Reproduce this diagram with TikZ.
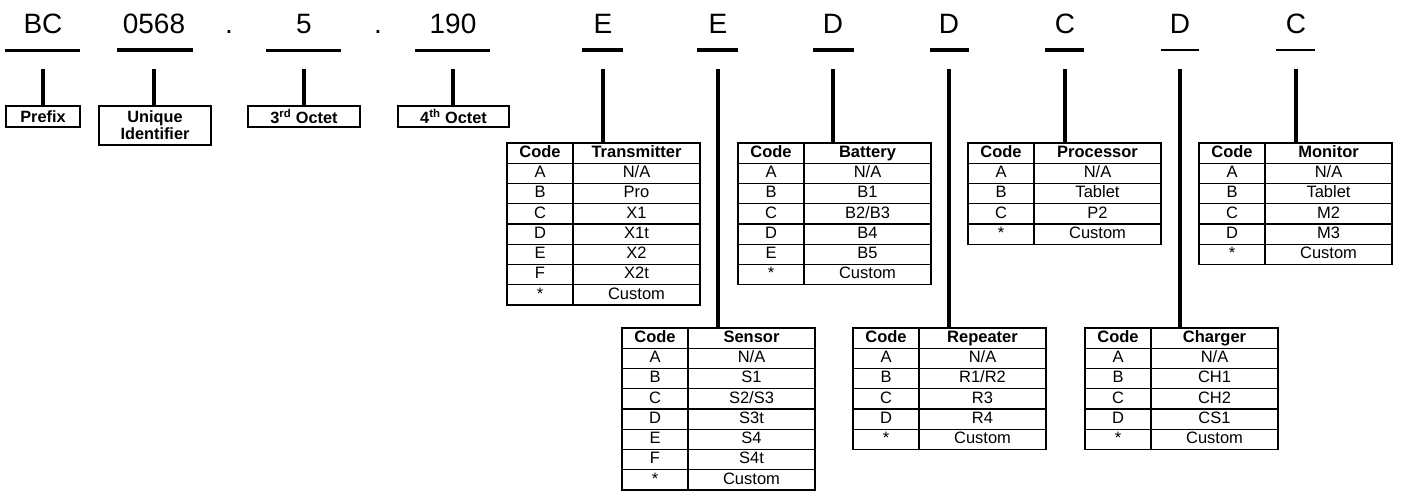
\documentclass[tikz,border=0pt]{standalone}
\usepackage{fontspec}
\setmainfont{Liberation Sans}
\usetikzlibrary{calc}
\tikzset{
  big/.style={font=\fontsize{28}{30}\selectfont, inner sep=0pt, anchor=base},
  uline/.style={line width=3pt},
  conn/.style={line width=4pt},
  lbox/.style={draw, line width=1.5pt, inner sep=0pt, outer sep=0pt, anchor=north west,
    font=\fontsize{16.3}{17}\selectfont\bfseries, align=center},
  cell/.style={draw, line width=1.2pt, inner sep=0pt, outer sep=0pt, anchor=north west,
    minimum height=20.25pt, text height=11.5pt, text depth=3pt,
    font=\fontsize{16.5}{17}\selectfont},
  cellc/.style={cell, minimum width=66pt},
  cellv/.style={cell, minimum width=127pt},
  hdr/.style={font=\fontsize{16.5}{17}\selectfont\bfseries},
}
\newcommand{\codetable}[5]{%
  \node[cellc,hdr] (#1-c0) at (#2,#3) {Code};
  \node[cellv,hdr] (#1-v0) at (#1-c0.north east) {#4};
  \foreach \cc/\vv [count=\i] in {#5}{
    \node[cellc] (#1-c\i) at ($(#2,#3)+(0,20.25*\i)$) {\cc};
    \node[cellv] (#1-v\i) at (#1-c\i.north east) {\vv};
  }
}
\begin{document}
\begin{tikzpicture}[x=1pt,y=-1pt]
\useasboundingbox (0,0) rectangle (1403,493);
% top code letters
\node[big] (L-bc) at (43,33) {BC};
\node[big] (L-uid) at (154,33) {0568};
\node[big] (dot1) at (229,33) {.};
\node[big] (L-o3) at (304,33) {5};
\node[big] (dot2) at (378,33) {.};
\node[big] (L-o4) at (453,33) {190};
\node[big] (L-tx) at (603,33) {E};
\node[big] (L-sn) at (718,33) {E};
\node[big] (L-bt) at (833,33) {D};
\node[big] (L-rp) at (949,33) {D};
\node[big] (L-pr) at (1065,33) {C};
\node[big] (L-ch) at (1180,33) {D};
\node[big] (L-mo) at (1296,33) {C};
% underlines
\draw[uline] (5,50) -- (80,50);
\draw[uline,line width=3.5pt] (117,50) -- (193,50);
\draw[uline] (266,50) -- (341,50);
\draw[uline] (415,50) -- (490,50);
\draw[uline,line width=3.5pt] (582,50) -- (623,50);
\draw[uline,line width=3.5pt] (697,50) -- (738,50);
\draw[uline,line width=3.5pt] (813,50) -- (854,50);
\draw[uline,line width=3.5pt] (930,50) -- (969,50);
\draw[uline,line width=3.5pt] (1045,50) -- (1084,50);
\draw[uline,line width=2.5pt] (1161,50) -- (1199,50);
\draw[uline,line width=2.5pt] (1276,50) -- (1315,50);
% label boxes
\node[lbox, minimum width=74pt, minimum height=21pt] (prefix) at (6,106) {Prefix};
\node[lbox, minimum width=112pt, minimum height=39pt] (uid) at (99,106) {Unique\\Identifier};
\node[lbox, minimum width=112pt, minimum height=21pt] (oct3) at (248,106) {3\textsuperscript{rd} Octet};
\node[lbox, minimum width=111pt, minimum height=21pt] (oct4) at (398,106) {4\textsuperscript{th} Octet};
% tables
\codetable{tx}{507}{143}{Transmitter}{A/{N/A}, B/Pro, C/X1, D/X1t, E/X2, F/X2t, */Custom}
\codetable{bt}{738}{143}{Battery}{A/{N/A}, B/B1, C/{B2/B3}, D/B4, E/B5, */Custom}
\codetable{pr}{968}{143}{Processor}{A/{N/A}, B/Tablet, C/P2, */Custom}
\codetable{mo}{1199}{143}{Monitor}{A/{N/A}, B/Tablet, C/M2, D/M3, */Custom}
\codetable{sn}{622}{328}{Sensor}{A/{N/A}, B/S1, C/{S2/S3}, D/S3t, E/S4, F/S4t, */Custom}
\codetable{rp}{853}{328}{Repeater}{A/{N/A}, B/{R1/R2}, C/R3, D/R4, */Custom}
\codetable{ch}{1085}{328}{Charger}{A/{N/A}, B/CH1, C/CH2, D/CS1, */Custom}
% connector start points
\coordinate (k-bc) at (43,69);
\coordinate (k-uid) at (154,69);
\coordinate (k-o3) at (304,69);
\coordinate (k-o4) at (453,69);
\coordinate (k-tx) at (603,69);
\coordinate (k-sn) at (718,69);
\coordinate (k-bt) at (833,69);
\coordinate (k-rp) at (949,69);
\coordinate (k-pr) at (1065,69);
\coordinate (k-ch) at (1180,69);
\coordinate (k-mo) at (1296,69);
% connectors
\draw[conn] (k-bc) -- (k-bc |- prefix.north);
\draw[conn] (k-uid) -- (k-uid |- uid.north);
\draw[conn] (k-o3) -- (k-o3 |- oct3.north);
\draw[conn] (k-o4) -- (k-o4 |- oct4.north);
\draw[conn] (k-tx) -- (k-tx |- tx-v0.north);
\draw[conn] (k-sn) -- (k-sn |- sn-v0.north);
\draw[conn] (k-bt) -- (k-bt |- bt-v0.north);
\draw[conn] (k-rp) -- (k-rp |- rp-v0.north);
\draw[conn] (k-pr) -- (k-pr |- pr-v0.north);
\draw[conn] (k-ch) -- (k-ch |- ch-v0.north);
\draw[conn] (k-mo) -- (k-mo |- mo-v0.north);
\end{tikzpicture}
\end{document}
